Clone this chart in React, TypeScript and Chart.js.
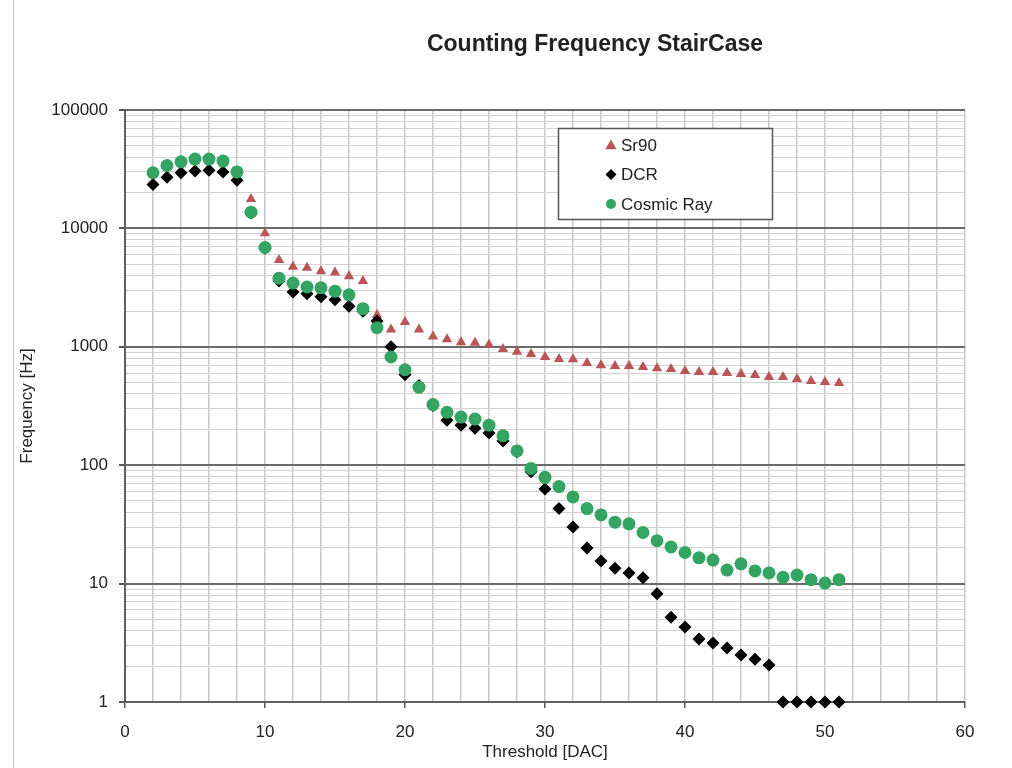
import React, { useEffect, useRef } from 'react';
import { Chart, registerables } from 'chart.js';

Chart.register(...registerables);

// ---------- data ----------
const thresholds = [
  2, 3, 4, 5, 6, 7, 8, 9, 10, 11, 12, 13, 14, 15, 16, 17, 18, 19, 20, 21, 22, 23, 24, 25, 26,
  27, 28, 29, 30, 31, 32, 33, 34, 35, 36, 37, 38, 39, 40, 41, 42, 43, 44, 45, 46, 47, 48, 49, 50, 51,
];

const sr90 = [
  null, null, null, null, null, null, null,
  17700, 9100, 5400, 4750, 4650, 4350, 4250, 3950, 3600, 1860, 1400, 1620, 1400, 1220, 1160, 1090,
  1080, 1040, 960, 910, 870, 820, 790, 785, 730, 700, 690, 690, 675, 660, 650, 625, 613, 613, 600,
  590, 578, 556, 556, 535, 514, 504, 494,
];

const dcr = [
  23500, 27000, 29500, 30500, 31000, 30000, 25500, 13500, 6800, 3600, 2900, 2800, 2650, 2500, 2200,
  2000, 1650, 1000, 580, 470, 320, 240, 218, 205, 187, 160, 130, 88, 63, 43, 30, 20, 15.5, 13.5,
  12.3, 11.2, 8.2, 5.2, 4.3, 3.4, 3.15, 2.86, 2.5, 2.3, 2.05, 1, 1, 1, 1, 1,
];

const cosmicRay = [
  29500, 34000, 36500, 38500, 38500, 37000, 30000, 13700, 6900, 3800, 3450, 3200, 3150, 2950, 2750,
  2100, 1450, 820, 640, 455, 325, 280, 255, 245, 218, 177, 132, 94, 79, 66, 54, 43, 38, 33, 32, 27,
  23, 20.4, 18.3, 16.5, 15.8, 13, 14.7, 12.8, 12.3, 11.3, 11.8, 10.8, 10.1, 10.8,
];

const seriesNames = ['Sr90', 'DCR', 'Cosmic Ray'];
const chartTitle = 'Counting Frequency StairCase';
const yDecades = [1, 10, 100, 1000, 10000, 100000];
const xLabelStep = 10;

const FONT = '"Liberation Sans", Arial, Helvetica, sans-serif';
const COLORS = ['#bb5558', '#000000', '#33a461'];

function toPoints(values: (number | null)[]) {
  const pts: { x: number; y: number }[] = [];
  values.forEach((v, i) => {
    if (v !== null) pts.push({ x: thresholds[i], y: v });
  });
  return pts;
}

function buildLogTicks() {
  const out: { value: number }[] = [];
  for (let d = 0; d < yDecades.length - 1; d++) {
    for (let m = 1; m <= 9; m++) out.push({ value: m * yDecades[d] });
  }
  out.push({ value: yDecades[yDecades.length - 1] });
  return out;
}

function isDecade(v: number) {
  return yDecades.some((d) => Math.abs(d - v) < 1e-9);
}

function drawMarker(ctx: CanvasRenderingContext2D, style: string, x: number, y: number, r: number) {
  ctx.beginPath();
  if (style === 'triangle') {
    for (let k = 0; k < 3; k++) {
      const a = (k * 2 * Math.PI) / 3;
      const px = x + Math.sin(a) * r;
      const py = y - Math.cos(a) * r;
      if (k === 0) ctx.moveTo(px, py);
      else ctx.lineTo(px, py);
    }
    ctx.closePath();
  } else if (style === 'rectRot') {
    ctx.moveTo(x, y - r);
    ctx.lineTo(x + r, y);
    ctx.lineTo(x, y + r);
    ctx.lineTo(x - r, y);
    ctx.closePath();
  } else {
    ctx.arc(x, y, r, 0, Math.PI * 2);
  }
  ctx.fill();
}

const boxLegend = {
  id: 'boxLegend',
  beforeDraw(chart: any) {
    const ctx = chart.ctx as CanvasRenderingContext2D;
    ctx.save();
    ctx.strokeStyle = '#c4c4c4';
    ctx.lineWidth = 1;
    ctx.beginPath();
    ctx.moveTo(13.5, 0);
    ctx.lineTo(13.5, chart.height);
    ctx.stroke();
    // title
    ctx.fillStyle = '#222222';
    ctx.font = `bold 23px ${FONT}`;
    ctx.textAlign = 'center';
    ctx.textBaseline = 'middle';
    ctx.fillText(chartTitle, 595, 45);
    ctx.restore();
  },
  afterDraw(chart: any) {
    const ctx = chart.ctx as CanvasRenderingContext2D;
    const x0 = 558.5;
    const y0 = 128.5;
    const w = 214;
    const h = 91;
    ctx.save();
    ctx.fillStyle = '#ffffff';
    ctx.fillRect(x0, y0, w, h);
    ctx.strokeStyle = '#555555';
    ctx.lineWidth = 1.5;
    ctx.strokeRect(x0, y0, w, h);
    const sizes: Record<string, number> = { triangle: 6.5, rectRot: 5.5, circle: 5 };
    chart.data.datasets
      .slice()
      .sort((a: any, b: any) => b.order - a.order)
      .forEach((ds: any, i: number) => {
        const cy = 145 + i * 29.5;
        ctx.fillStyle = ds.backgroundColor;
        drawMarker(ctx, ds.pointStyle, 611, cy + (ds.pointStyle === 'triangle' ? 1 : 0), sizes[ds.pointStyle]);
        ctx.fillStyle = '#222222';
        ctx.font = `17px ${FONT}`;
        ctx.textBaseline = 'middle';
        ctx.textAlign = 'left';
        ctx.fillText(ds.label, 621, cy + 1);
      });
    ctx.restore();
  },
};

export default function App() {
  const canvasRef = useRef<HTMLCanvasElement | null>(null);

  useEffect(() => {
    if (!canvasRef.current) return;
    const chart = new Chart(canvasRef.current, {
      type: 'scatter',
      data: {
        datasets: [
          {
            label: seriesNames[0],
            data: toPoints(sr90),
            pointStyle: 'triangle',
            pointRadius: 6,
            backgroundColor: COLORS[0],
            borderColor: COLORS[0],
            borderWidth: 0,
            order: 3,
            clip: false,
          } as any,
          {
            label: seriesNames[1],
            data: toPoints(dcr),
            pointStyle: 'rectRot',
            pointRadius: 6.5,
            backgroundColor: COLORS[1],
            borderColor: COLORS[1],
            borderWidth: 0,
            order: 2,
            clip: false,
          } as any,
          {
            label: seriesNames[2],
            data: toPoints(cosmicRay),
            pointStyle: 'circle',
            pointRadius: 6.5,
            backgroundColor: COLORS[2],
            borderColor: COLORS[2],
            borderWidth: 0,
            order: 1,
            clip: false,
          } as any,
        ],
      },
      options: {
        animation: false,
        responsive: true,
        maintainAspectRatio: false,
        layout: { padding: { left: 0, right: 47, top: 110, bottom: 0 } },
        plugins: {
          legend: { display: false },
          tooltip: { enabled: false },
          title: { display: false },
        },
        scales: {
          x: {
            type: 'linear',
            min: 0,
            max: 60,
            afterFit: (scale: any) => {
              scale.height = 66;
            },
            ticks: {
              stepSize: 2,
              autoSkip: false,
              maxRotation: 0,
              color: '#222222',
              font: { family: FONT, size: 17 },
              padding: 14,
              callback: (v: any) => (Number(v) % xLabelStep === 0 ? String(v) : ''),
            },
            grid: {
              color: '#c8c8c8',
              lineWidth: 1.5,
              tickLength: 6,
              tickColor: (c: any) =>
                c.tick && Number(c.tick.value) % xLabelStep === 0 ? '#555555' : 'rgba(0,0,0,0)',
            },
            border: { display: true, color: '#606060', width: 2 },
            title: {
              display: true,
              text: 'Threshold [DAC]',
              color: '#222222',
              font: { family: FONT, size: 17 },
              padding: { top: 0, bottom: 5 },
            },
          },
          y: {
            type: 'logarithmic',
            min: 1,
            max: 100000,
            afterFit: (scale: any) => {
              scale.width = 125;
            },
            afterBuildTicks: (scale: any) => {
              scale.ticks = buildLogTicks();
            },
            ticks: {
              autoSkip: false,
              color: '#222222',
              font: { family: FONT, size: 17 },
              padding: 11,
              callback: (v: any) => (isDecade(Number(v)) ? String(v) : ''),
            },
            grid: {
              color: (c: any) => (c.tick && isDecade(Number(c.tick.value)) ? '#6a6a6a' : '#d2d2d2'),
              lineWidth: (c: any) => (c.tick && isDecade(Number(c.tick.value)) ? 2 : 1),
              tickLength: 6,
              tickColor: (c: any) =>
                c.tick && isDecade(Number(c.tick.value)) ? '#555555' : 'rgba(0,0,0,0)',
            },
            border: { display: true, color: '#606060', width: 2 },
            title: {
              display: true,
              text: 'Frequency [Hz]',
              color: '#222222',
              font: { family: FONT, size: 17 },
              padding: { top: 17, bottom: 0 },
            },
          },
        },
      },
      plugins: [boxLegend],
    } as any);
    return () => chart.destroy();
  }, []);

  return (
    <div style={{ position: 'fixed', left: 0, top: 0, width: 1012, height: 768, background: '#ffffff' }}>
      <canvas ref={canvasRef} />
    </div>
  );
}
